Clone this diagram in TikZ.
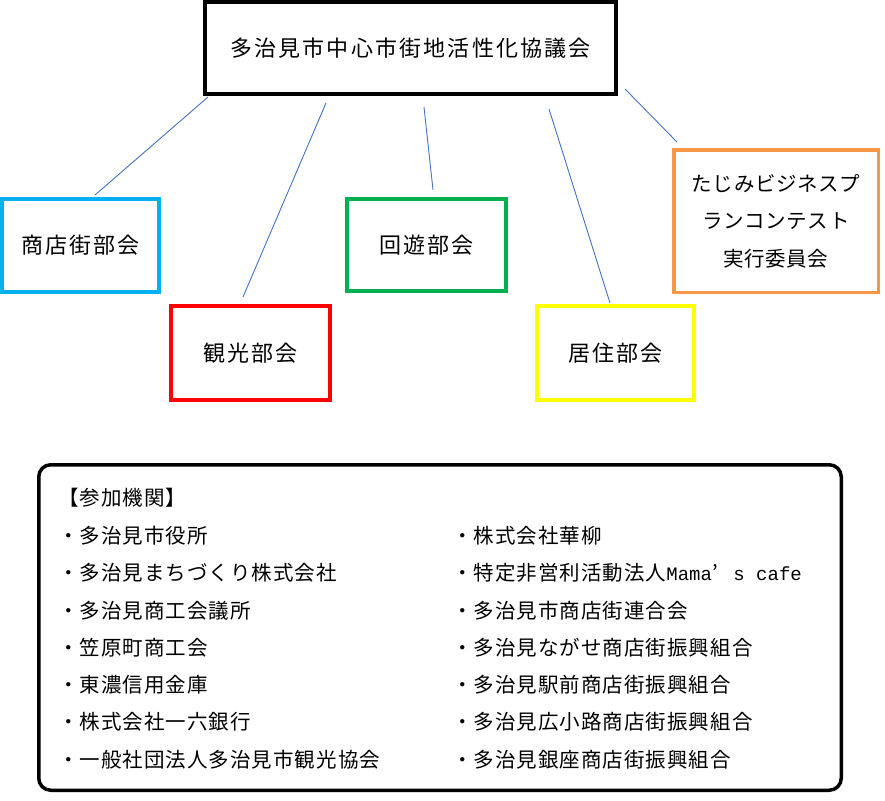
\documentclass[tikz,border=0pt]{standalone}
\usepackage{fontspec, xcolor}
\setmainfont{Noto Sans CJK JP}
\newfontfamily\jpfont{Noto Sans CJK JP}
\newfontfamily\latinmono{Liberation Mono}
\usetikzlibrary{calc}

\definecolor{linkblue}{HTML}{4472C4}
\definecolor{shotencyan}{HTML}{00B0F0}
\definecolor{kankored}{HTML}{FF0000}
\definecolor{kaiyugreen}{HTML}{00B050}
\definecolor{kyojuyellow}{HTML}{FFFF00}
\definecolor{tajimiorange}{HTML}{F79646}

\newcommand{\deptfont}{\jpfont\fontsize{22}{26}\selectfont\addfontfeature{LetterSpace=10}}
\newcommand{\listfont}{\jpfont\fontsize{20.5}{24}\selectfont\addfontfeature{LetterSpace=5}}
\newcommand{\tajimifont}{\jpfont\fontsize{20.5}{37.5}\selectfont\addfontfeature{LetterSpace=3}}
\newcommand{\monopart}[1]{{\latinmono\fontsize{19}{24}\selectfont #1}}

\begin{document}
\begin{tikzpicture}[x=1pt, y=-1pt,
    dept/.style={draw, line width=4pt, minimum width=159pt, minimum height=93pt, inner sep=0pt, font=\deptfont},
    link/.style={draw=linkblue, line width=0.9pt},
    item/.style={anchor=west, inner sep=0pt, font=\listfont}]
    \useasboundingbox (0,0) rectangle (885,800);

    % council and its committees
    \node [dept, minimum width=411pt, minimum height=92pt] (council) at (410.5,48) {多治見市中心市街地活性化協議会};
    \node [dept, draw=shotencyan, minimum width=157pt] (shoten) at (80.5,245.5) {商店街部会};
    \node [dept, draw=kankored, minimum height=94pt] (kanko) at (250.5,353) {観光部会};
    \node [dept, draw=kaiyugreen, minimum height=92pt] (kaiyu) at (426.5,245) {回遊部会};
    \node [dept, draw=kyojuyellow, minimum width=157pt, minimum height=94pt] (kyoju) at (615.5,353) {居住部会};
    \node [dept, draw=tajimiorange, line width=3.5pt, minimum width=204.5pt, minimum height=142.5pt, align=center, font=\tajimifont] (tajimi) at (776,221) {たじみビジネスプ\\ランコンテスト\\実行委員会};

    \draw [link] ([shift={(5,1)}]council.south west) -- ([shift={(14.5,-2)}]shoten.north);
    \draw [link] ([shift={(-84.5,7)}]council.south) -- ([shift={(-7.5,-7)}]kanko.north);
    \draw [link] ([shift={(13.5,11)}]council.south) -- ([shift={(6.5,-7)}]kaiyu.north);
    \draw [link] ([shift={(138.5,13)}]council.south) -- ([shift={(-5.5,-1)}]kyoju.north);
    \draw [link] ([shift={(7,-7)}]council.south east) -- ([shift={(5,-6)}]tajimi.north west);

    % participating bodies
    \node [draw, line width=3.5pt, rounded corners=12pt, minimum width=802.5pt, minimum height=325.5pt] (members) at (440,627.5) {};
    \node [item] (title) at (58,498) {【参加機関】};
    \foreach \name [count=\i from 0] in {多治見市役所, 多治見まちづくり株式会社, 多治見商工会議所, 笠原町商工会, 東濃信用金庫, 株式会社一六銀行, 一般社団法人多治見市観光協会}
        \node [item] (left\i) at (58,536+37.2*\i) {・\name};
    \foreach \name [count=\i from 0] in {株式会社華柳, {特定非営利活動法人\monopart{Mama}\makebox[21.4pt][l]{’}\monopart{s cafe}}, 多治見市商店街連合会, 多治見ながせ商店街振興組合, 多治見駅前商店街振興組合, 多治見広小路商店街振興組合, 多治見銀座商店街振興組合}
        \node [item] (right\i) at (452,536+37.2*\i) {・\name};
\end{tikzpicture}
\end{document}
